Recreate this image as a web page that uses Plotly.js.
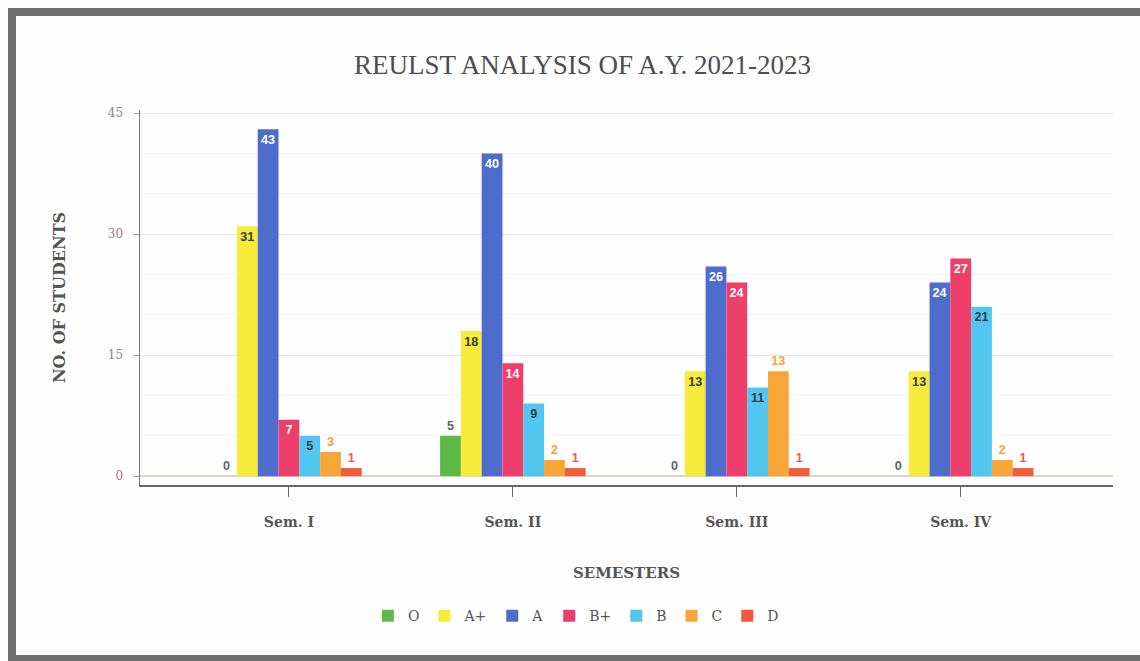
<!DOCTYPE html>
<html>
<head>
<meta charset="utf-8">
<script src="https://cdn.plot.ly/plotly-3.0.1.min.js"></script>
<style>
  html, body { margin: 0; padding: 0; background: #fefefe; overflow: hidden; }
  #wrap { position: relative; width: 1140px; height: 661px; overflow: hidden; background: #fefefe; }
  #chart { position: absolute; left: 0; top: 0; width: 1140px; height: 661px; }
  #frame { position: absolute; left: 8px; top: 8px; width: 1132px; height: 653px;
           border-top: 8px solid #6e6e6e; border-left: 8px solid #6e6e6e;
           border-bottom: 6px solid #6e6e6e;
           box-sizing: border-box; pointer-events: none; }
</style>
</head>
<body>
<div id="wrap"><div id="chart"></div><div id="frame"></div></div>
<script>
const semesters = ["Sem. I", "Sem. II", "Sem. III", "Sem. IV"];
const grades = ["O", "A+", "A", "B+", "B", "C", "D"];
const gradeO  = [0, 5, 0, 0];
const gradeAp = [31, 18, 13, 13];
const gradeA  = [43, 40, 26, 24];
const gradeBp = [7, 14, 24, 27];
const gradeB  = [5, 9, 11, 21];
const gradeC  = [3, 2, 13, 2];
const gradeD  = [1, 1, 1, 1];
const yTicks = [0, 15, 30, 45];

const series = [gradeO, gradeAp, gradeA, gradeBp, gradeB, gradeC, gradeD];
const colors = ["#5cb947", "#f7ec3c", "#4e6ccb", "#ee3f6b", "#52c6ee", "#f8a637", "#f15a3e"];
const textPos = ["outside", "inside", "inside", "inside", "inside", "outside", "outside"];
const textCol = ["#666666", "#3a3a2a", "#ffffff", "#ffffff", "#2d3b48", "#f5a33a", "#ef5a45"];

const traces = series.map((vals, i) => ({
  type: "bar",
  name: grades[i],
  x: semesters,
  y: vals,
  marker: { color: colors[i], line: { width: 0 } },
  text: vals.map(String),
  textposition: textPos[i],
  insidetextanchor: "end",
  textangle: 0,
  cliponaxis: false,
  textfont: { family: "Liberation Sans, Arial, sans-serif", size: 13, color: textCol[i], weight: "bold" },
  hoverinfo: "x+y+name"
}));

const serif = "DejaVu Serif, Georgia, serif";

const layout = {
  width: 1140, height: 661,
  paper_bgcolor: "#fefefe",
  plot_bgcolor: "#fefefe",
  margin: { l: 140, r: 27, t: 110, b: 176 },
  barmode: "group",
  bargap: 0.35,
  bargroupgap: 0,
  uniformtext: { mode: "show", minsize: 12 },
  title: {
    text: "REULST ANALYSIS OF A.Y. 2021-2023",
    x: 0.511, xanchor: "center",
    y: 0.902, yanchor: "middle",
    font: { family: "Liberation Serif, Times New Roman, serif", size: 27, color: "#4e4e4e" }
  },
  xaxis: {
    type: "category",
    range: [-0.665, 3.68],
    showline: true, linecolor: "#666666", linewidth: 1.5,
    ticks: "outside", ticklen: 10, tickcolor: "#666666",
    ticklabelstandoff: 14,
    showgrid: false, zeroline: false,
    tickfont: { family: serif, size: 14, color: "#555555", weight: "bold" },
    title: {
      text: "SEMESTERS", standoff: 38,
      font: { family: serif, size: 15, color: "#555555", weight: "bold" }
    }
  },
  yaxis: {
    range: [-1.1, 45.4],
    tickvals: yTicks,
    ticktext: yTicks.map(String),
    showline: true, linecolor: "#777777", linewidth: 1.5,
    ticks: "outside", ticklen: 5, tickcolor: "#999999",
    ticklabelstandoff: 8,
    showgrid: true, gridcolor: "#e6e6e6", gridwidth: 1,
    zeroline: true, zerolinecolor: "#d6d9c4", zerolinewidth: 1.5,
    minor: { dtick: 5, showgrid: true, gridcolor: "#f3f3f3", gridwidth: 1, ticks: "" },
    tickfont: { family: serif, size: 12, color: "#9b7d8c" },
    title: {
      text: "NO. OF STUDENTS", standoff: 38,
      font: { family: serif, size: 16, color: "#555555", weight: "bold" }
    }
  },
  legend: {
    orientation: "h",
    x: 0.448, xanchor: "center",
    y: -0.35, yanchor: "middle",
    itemwidth: 30,
    font: { family: serif, size: 14, color: "#555555" },
    bgcolor: "rgba(0,0,0,0)"
  },
  showlegend: true
};

Plotly.newPlot("chart", traces, layout, { displayModeBar: false, staticPlot: true });
</script>
</body>
</html>
